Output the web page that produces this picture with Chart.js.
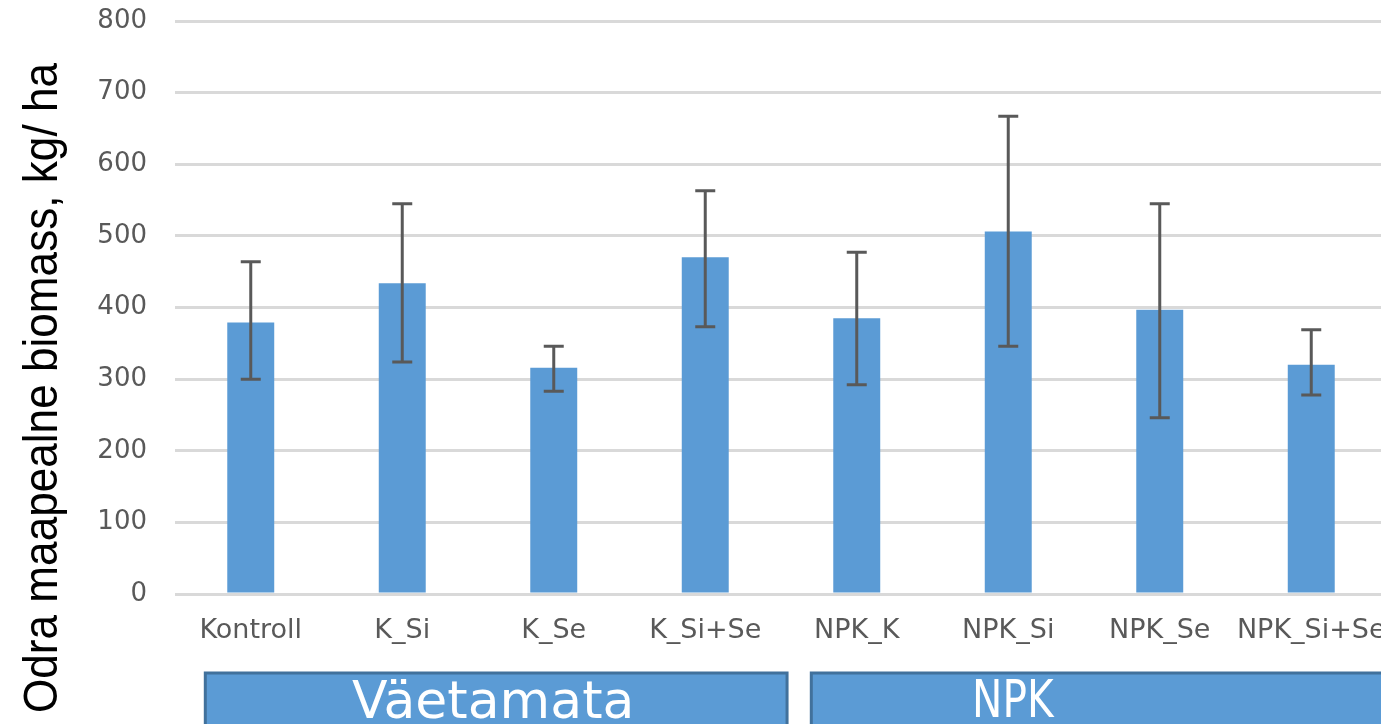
<!DOCTYPE html>
<html>
<head>
<meta charset="utf-8">
<title>Odra maapealne biomass</title>
<script src="https://cdn.jsdelivr.net/npm/chart.js@4.4.1/dist/chart.umd.min.js"></script>
<style>
  html, body { margin: 0; padding: 0; background: #fff; overflow: hidden; }
  #wrap { width: 1387px; height: 724px; }
  canvas { display: block; }
</style>
</head>
<body>
<div id="wrap"><canvas id="chart" width="1387" height="724"></canvas></div>
<script>
// -----------------------------
// Data
// -----------------------------
const categories = ['Kontroll', 'K_Si', 'K_Se', 'K_Si+Se', 'NPK_K', 'NPK_Si', 'NPK_Se', 'NPK_Si+Se'];
const biomass = [379, 434, 316, 470, 385, 506, 397, 320];
// error bar ends (upper / lower), kg/ha
const errUpper = [464, 545, 346, 563, 477, 667, 545, 369];
const errLower = [300, 324, 283, 373, 292, 346, 246, 278];
// treatment groups under the axis
const groupLabels = ['Väetamata', 'NPK'];
const groupFrom = [0, 4];
const groupTo = [3, 7];
const yTicks = [0, 100, 200, 300, 400, 500, 600, 700, 800];
const yTitle = 'Odra maapealne biomass, kg/ ha';

const BAR_BLUE = '#5b9bd5';
const BOX_EDGE = '#41719c';
const ERR_GREY = '#595959';

// -----------------------------
// Error bars drawn from the y scale
// -----------------------------
const errorBars = {
  id: 'errorBars',
  afterDatasetsDraw(chart) {
    const { ctx, scales: { y } } = chart;
    const meta = chart.getDatasetMeta(0);
    ctx.save();
    ctx.strokeStyle = ERR_GREY;
    ctx.lineWidth = 3;
    meta.data.forEach((bar, i) => {
      const top = y.getPixelForValue(errUpper[i]);
      const bot = y.getPixelForValue(errLower[i]);
      ctx.beginPath();
      ctx.moveTo(bar.x, top);
      ctx.lineTo(bar.x, bot);
      ctx.moveTo(bar.x - 10, top);
      ctx.lineTo(bar.x + 10, top);
      ctx.moveTo(bar.x - 10, bot);
      ctx.lineTo(bar.x + 10, bot);
      ctx.stroke();
    });
    ctx.restore();
  }
};

// -----------------------------
// Group boxes (Väetamata / NPK) + rotated y title
// -----------------------------
const extras = {
  id: 'extras',
  afterDraw(chart) {
    const { ctx, scales: { x }, chartArea } = chart;
    const step = x.getPixelForValue(1) - x.getPixelForValue(0);
    const top = chartArea.bottom + 79;
    const h = 60;
    ctx.save();
    groupLabels.forEach((label, g) => {
      const left = x.getPixelForValue(groupFrom[g]) - step * 0.3;
      const right = x.getPixelForValue(groupTo[g]) + step * 0.54;
      ctx.fillStyle = BAR_BLUE;
      ctx.fillRect(left, top, right - left, h);
      ctx.strokeStyle = BOX_EDGE;
      ctx.lineWidth = 3;
      ctx.strokeRect(left, top, right - left, h);

      ctx.save();
      ctx.fillStyle = '#ffffff';
      ctx.font = '52px "DejaVu Sans"';
      ctx.textAlign = 'center';
      ctx.textBaseline = 'alphabetic';
      if (g === 0) {
        ctx.fillText(label, (left + right) / 2 - 3, top + 45);
      } else {
        // the NPK label is narrower in the original
        ctx.translate(x.getPixelForValue(groupFrom[g]) + step * 1.03, top + 44);
        ctx.scale(0.78, 1);
        ctx.fillText(label, 0, 0);
      }
      ctx.restore();
    });

    // y axis title, squeezed a little to match the original's narrow face
    ctx.save();
    ctx.fillStyle = '#000000';
    ctx.font = '49px "Liberation Sans"';
    ctx.textAlign = 'left';
    ctx.textBaseline = 'alphabetic';
    const w = ctx.measureText(yTitle).width;
    ctx.translate(57, 713);
    ctx.rotate(-Math.PI / 2);
    ctx.scale(650 / w, 1);
    ctx.fillText(yTitle, 0, 0);
    ctx.restore();

    ctx.restore();
  }
};

const ctx = document.getElementById('chart').getContext('2d');
new Chart(ctx, {
  type: 'bar',
  data: {
    labels: categories,
    datasets: [{
      data: biomass,
      backgroundColor: BAR_BLUE,
      borderWidth: 0,
      barPercentage: 0.31,
      categoryPercentage: 1.0
    }]
  },
  options: {
    responsive: false,
    animation: false,
    layout: { padding: { top: 21, left: 0, right: 0, bottom: 0 } },
    plugins: {
      legend: { display: false },
      tooltip: { enabled: false }
    },
    scales: {
      x: {
        grid: { display: false, drawTicks: false },
        border: { display: false },
        ticks: {
          color: ERR_GREY,
          font: { family: 'DejaVu Sans', size: 27 },
          padding: 21,
          maxRotation: 0,
          autoSkip: false
        },
        afterFit(scale) {
          scale.height = 130;
          scale.paddingLeft = 0;
          scale.paddingRight = 0;
        }
      },
      y: {
        min: 0,
        max: 800,
        afterBuildTicks(scale) { scale.ticks = yTicks.map(v => ({ value: v })); },
        grid: { color: '#d9d9d9', lineWidth: 3, drawTicks: false },
        border: { display: false },
        ticks: {
          color: ERR_GREY,
          font: { family: 'DejaVu Sans', size: 26 },
          padding: 28
        },
        afterFit(scale) {
          scale.width = 175;
          scale.paddingTop = 0;
          scale.paddingBottom = 0;
        }
      }
    }
  },
  plugins: [errorBars, extras]
});
</script>
</body>
</html>
